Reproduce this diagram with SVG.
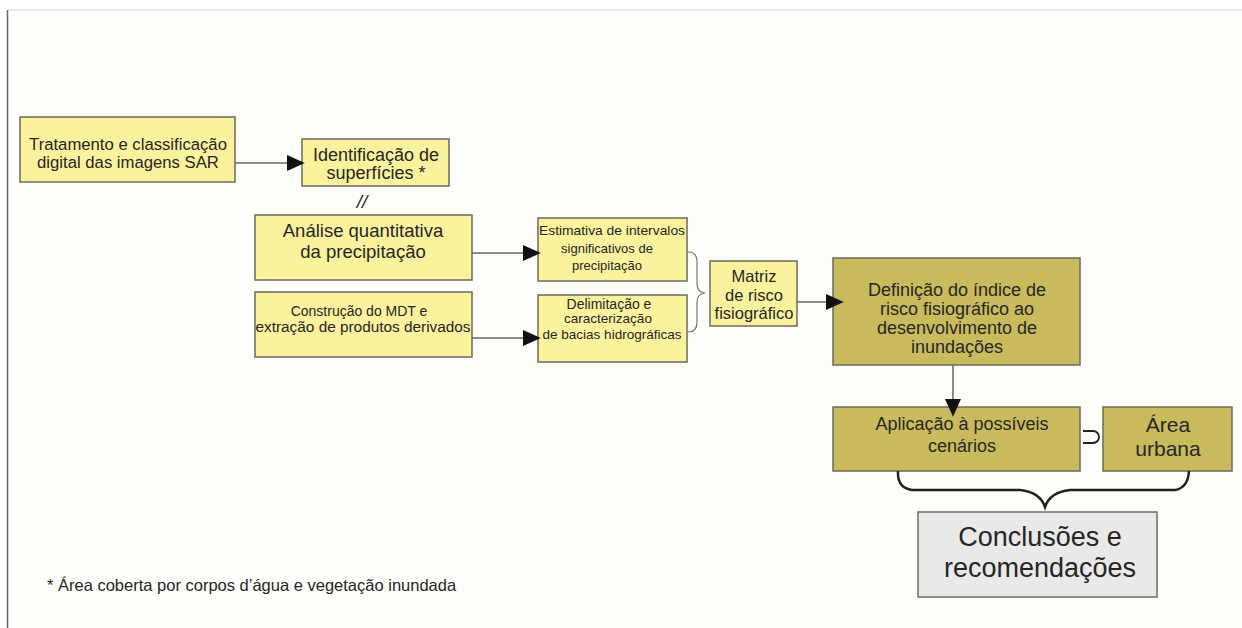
<svg xmlns="http://www.w3.org/2000/svg" width="1242" height="628" viewBox="0 0 1242 628">
<defs>
<style>
.y{fill:#fbf29e;stroke:#6b6b5a;stroke-width:1.5}
.o{fill:#c9ba5c;stroke:#6b6b5a;stroke-width:1.5}
.g{fill:#e9e9e7;stroke:#6b6b6b;stroke-width:1.5}
text{font-family:"Liberation Sans",Arial,sans-serif;fill:#262626;text-anchor:middle}
.ln{fill:none;stroke:#666;stroke-width:1.5}
.br{fill:none;stroke:#222;stroke-width:2.5}
.br2{fill:none;stroke:#777;stroke-width:1.2}
</style>
<marker id="ahL" viewBox="0 0 10 10" refX="9" refY="5" markerWidth="18" markerHeight="18" markerUnits="userSpaceOnUse" orient="auto">
<path d="M0,0.5 L10,5 L0,9.5 Z" fill="#111"/>
</marker>
</defs>
<rect x="0" y="0" width="1242" height="628" fill="#ffffff"/>
<rect x="8" y="10" width="1234" height="618" fill="#fdfdf9"/>
<line x1="8" y1="10" x2="1242" y2="10" stroke="#d4d4d0" stroke-width="1"/>
<line x1="7.5" y1="10" x2="7.5" y2="628" stroke="#666" stroke-width="1.5"/>

<g id="n1"><rect class="y" x="20" y="117" width="215" height="65"/>
<text x="128" y="150" style="font-size:16.7px">Tratamento e classificação</text>
<text x="128" y="168" style="font-size:16.7px">digital das imagens SAR</text></g>

<g id="n2"><rect class="y" x="302" y="139" width="147" height="47"/>
<text x="376" y="161" style="font-size:18px">Identificação de</text>
<text x="376" y="179" style="font-size:18px">superfícies *</text></g>

<g id="n3"><rect class="y" x="255" y="215" width="217" height="65"/>
<text x="363" y="237" style="font-size:18.5px">Análise quantitativa</text>
<text x="363" y="258" style="font-size:18.5px">da precipitação</text></g>

<g id="n4"><rect class="y" x="255" y="292" width="217" height="65"/>
<text x="359" y="316" style="font-size:14px">Construção do MDT e</text>
<text x="363" y="332" style="font-size:14px" textLength="215" lengthAdjust="spacingAndGlyphs">extração de produtos derivados</text></g>

<g id="n5"><rect class="y" x="538" y="218" width="149" height="63"/>
<text x="612" y="235" style="font-size:13px" textLength="146" lengthAdjust="spacingAndGlyphs">Estimativa de intervalos</text>
<text x="607" y="253" style="font-size:13px">significativos de</text>
<text x="607" y="270" style="font-size:13px">precipitação</text></g>

<g id="n6"><rect class="y" x="538" y="295" width="149" height="67"/>
<text x="609" y="309" style="font-size:14px">Delimitação e</text>
<text x="608" y="323" style="font-size:13.5px">caracterização</text>
<text x="612" y="339" style="font-size:13.5px">de bacias hidrográficas</text></g>

<g id="n7"><rect class="y" x="710" y="261" width="87" height="65"/>
<text x="754" y="282" style="font-size:16.5px">Matriz</text>
<text x="754" y="301" style="font-size:16.5px">de risco</text>
<text x="754" y="319" style="font-size:16.5px">fisiográfico</text></g>

<g id="n8"><rect class="o" x="833" y="258" width="247" height="107"/>
<text x="957" y="296" style="font-size:18px">Definição do índice de</text>
<text x="957" y="315" style="font-size:18px">risco fisiográfico ao</text>
<text x="957" y="334" style="font-size:18px">desenvolvimento de</text>
<text x="957" y="353" style="font-size:18px">inundações</text></g>

<g id="n9"><rect class="o" x="833" y="407" width="247" height="64"/>
<text x="962" y="430" style="font-size:18px">Aplicação à possíveis</text>
<text x="962" y="452" style="font-size:18px">cenários</text></g>

<g id="n10"><rect class="o" x="1103" y="407" width="129" height="64"/>
<text x="1168" y="432" style="font-size:21px">Área</text>
<text x="1168" y="456" style="font-size:21px">urbana</text></g>

<g id="n11"><rect class="g" x="918" y="512" width="239" height="85"/>
<text x="1040" y="546" style="font-size:27px">Conclusões e</text>
<text x="1040" y="577" style="font-size:27px">recomendações</text></g>

<g id="connectors">
<line class="ln" x1="235" y1="163" x2="303" y2="163" marker-end="url(#ahL)"/>
<line class="ln" x1="472" y1="253" x2="539" y2="253" marker-end="url(#ahL)"/>
<line class="ln" x1="472" y1="338" x2="539" y2="338" marker-end="url(#ahL)"/>
<line class="ln" x1="797" y1="302" x2="842" y2="302" marker-end="url(#ahL)"/>
<line class="ln" x1="953" y1="365" x2="953" y2="415" marker-end="url(#ahL)"/>
<path class="br2" d="M688,252 Q697,252 697,262 L697,284 Q697,292 705,293 Q697,294 697,302 L697,322 Q697,332 688,332"/>
<path d="M1083,431 H1093 A6,6 0 0 1 1093,443 H1083" fill="none" stroke="#222" stroke-width="1.8"/>
<path class="br" d="M898,471 Q897,488 912,490 L1020,490 Q1040,492 1045,507 Q1050,492 1070,490 L1175,490 Q1188,488 1189,471"/>
<text x="362" y="208" style="font-size:19px;font-style:italic">//</text>
</g>

<text x="47" y="591" style="font-size:16.5px;text-anchor:start">* Área coberta por corpos d’água e vegetação inundada</text>
</svg>
